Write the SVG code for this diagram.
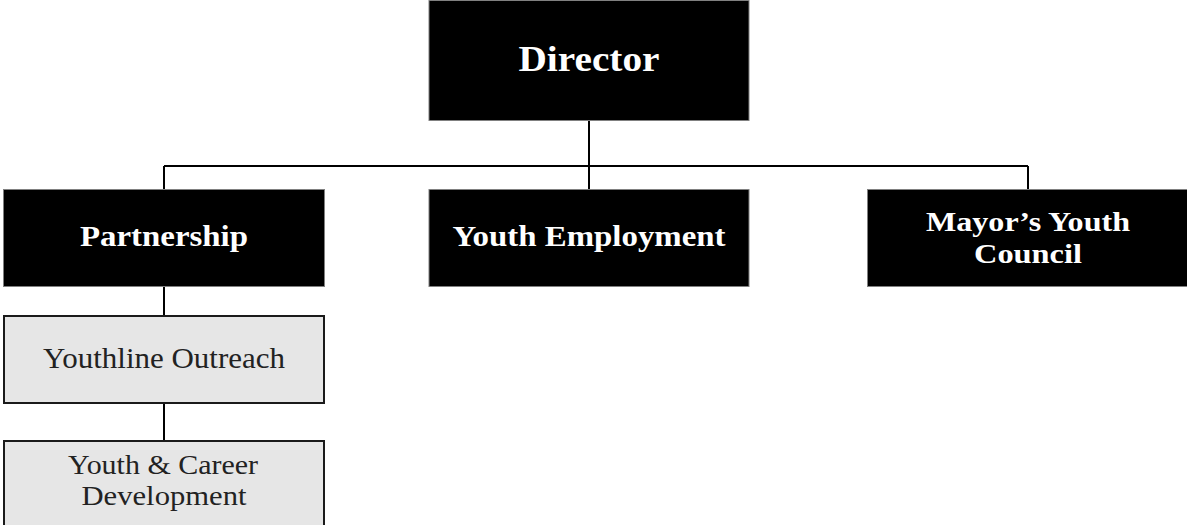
<svg xmlns="http://www.w3.org/2000/svg" width="1187" height="525" viewBox="0 0 1187 525">
<style>
.dark{fill:#000;stroke:#808080;stroke-width:1}
.light{fill:#e6e6e6;stroke:#1a1a1a;stroke-width:2}
.tb{font-family:"Liberation Serif","DejaVu Serif",serif;font-weight:bold;fill:#fff;text-anchor:middle}
.tr{font-family:"Liberation Serif","DejaVu Serif",serif;fill:#222;text-anchor:middle}
.conn{fill:none;stroke:#000;stroke-width:2}
</style>
<rect width="1187" height="525" fill="#fff"/>
<g id="connectors">
<path class="conn" d="M589 120V189M164 166H1028M164 166V189M1028 166V189M164 286V315M164 403V441"/>
</g>
<g id="director">
<rect class="dark" x="429" y="0.5" width="320" height="120"/>
<text class="tb" x="589" y="71" font-size="35" textLength="141" lengthAdjust="spacingAndGlyphs">Director</text>
</g>
<g id="partnership">
<rect class="dark" x="3.5" y="189.5" width="321" height="97"/>
<text class="tb" x="164" y="246" font-size="30" textLength="168" lengthAdjust="spacingAndGlyphs">Partnership</text>
</g>
<g id="youth-employment">
<rect class="dark" x="429" y="189.5" width="320" height="97"/>
<text class="tb" x="589" y="246" font-size="30" textLength="273" lengthAdjust="spacingAndGlyphs">Youth Employment</text>
</g>
<g id="mayors-youth-council">
<rect class="dark" x="867.5" y="189.5" width="322" height="97"/>
<text class="tb" x="1028" y="231" font-size="28" textLength="204" lengthAdjust="spacingAndGlyphs">Mayor’s Youth</text>
<text class="tb" x="1028" y="263" font-size="28" textLength="108" lengthAdjust="spacingAndGlyphs">Council</text>
</g>
<g id="youthline-outreach">
<rect class="light" x="4" y="316" width="320" height="87"/>
<text class="tr" x="164" y="368" font-size="30" textLength="242" lengthAdjust="spacingAndGlyphs">Youthline Outreach</text>
</g>
<g id="youth-career-development">
<rect class="light" x="4" y="441" width="320" height="88"/>
<text class="tr" x="163" y="474" font-size="28" textLength="190" lengthAdjust="spacingAndGlyphs">Youth &amp; Career</text>
<text class="tr" x="164" y="505" font-size="28" textLength="165" lengthAdjust="spacingAndGlyphs">Development</text>
</g>
</svg>
